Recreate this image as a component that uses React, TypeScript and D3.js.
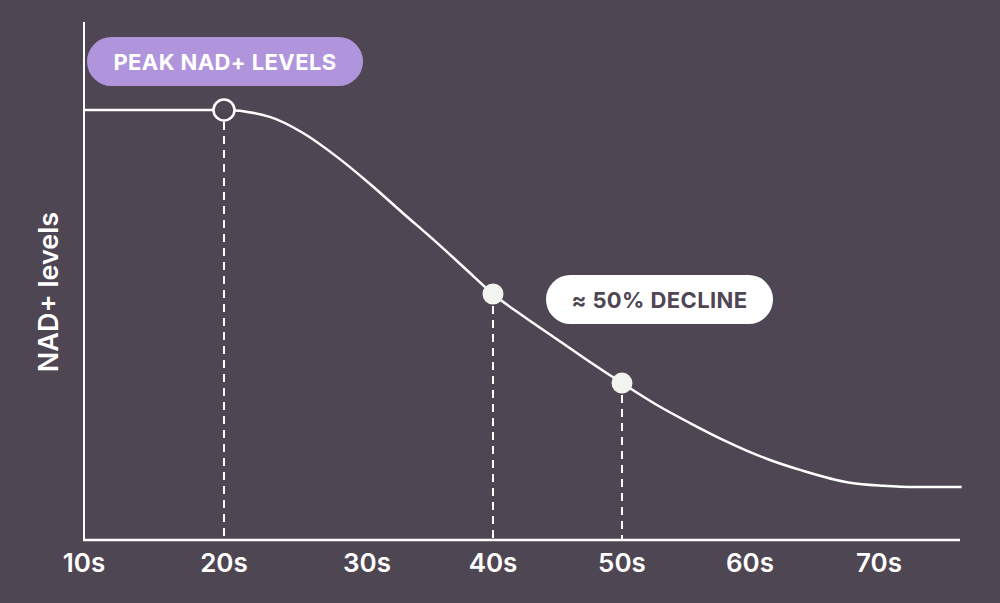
import React, { useRef, useEffect } from 'react';
import * as d3 from 'd3';

// x axis: decade labels and where each sits on the axis
const tickAges = [10, 20, 30, 40, 50, 60, 70];
const tickLabels = ['10s', '20s', '30s', '40s', '50s', '60s', '70s'];
const axisEndAge = 76.3;

// NAD+ curve (age, relative level 0-100)
const curveAges = [10, 20, 23.2, 25.5, 27.9, 30.24, 32.86, 35.56, 38.17, 40, 42.33, 44.96, 47.52, 50, 52.73, 55.31, 57.89, 61.55, 63.88, 67.75, 70.31, 72.8, 76.43];
const curveLevels = [100, 100, 98.4, 94.7, 89.1, 82.8, 76.0, 69.1, 62.1, 57.2, 52.1, 46.7, 41.4, 36.5, 31.4, 27.2, 23.3, 18.6, 16.3, 13.3, 12.6, 12.3, 12.3];

// highlighted points
const markerAges = [20, 40, 50];
const markerLevels = [100, 57.2, 36.5];
const markerHollow = [true, false, false];

const peakLabel = 'PEAK NAD+ LEVELS';
const declineLabel = '≈ 50% DECLINE';
const yLabel = 'NAD+ levels';

const BG = '#4f4653';
const PURPLE = '#b195dc';
const DOT = '#f3f3f0';
const FONT = 'Inter, "Open Sans", sans-serif';

const App: React.FC = () => {
  const svgRef = useRef<SVGSVGElement>(null);
  const width = 1000;
  const height = 603;

  useEffect(() => {
    if (!svgRef.current) return;
    const svg = d3.select(svgRef.current);
    svg.selectAll('*').remove();

    // decades are not evenly spaced in the original, so use a polylinear scale
    const x = d3.scaleLinear()
      .domain([...tickAges, axisEndAge])
      .range([84, 224, 367, 493, 622, 750, 879, 960]);
    const y = d3.scaleLinear().domain([0, 100]).range([540, 110]);

    svg.append('rect')
      .attr('width', width)
      .attr('height', height)
      .attr('fill', BG);

    // axes
    svg.append('line')
      .attr('x1', x(10)).attr('x2', x(10))
      .attr('y1', 22).attr('y2', y(0))
      .attr('stroke', '#fff').attr('stroke-width', 2);
    svg.append('line')
      .attr('x1', x(10) - 1).attr('x2', x(axisEndAge))
      .attr('y1', y(0)).attr('y2', y(0))
      .attr('stroke', '#fff').attr('stroke-width', 2.5);

    svg.selectAll('.tick-label')
      .data(tickAges)
      .enter()
      .append('text')
      .attr('class', 'tick-label')
      .attr('x', d => x(d))
      .attr('y', 572)
      .attr('text-anchor', 'middle')
      .style('font-family', FONT)
      .style('font-size', '26px')
      .style('font-weight', 600)
      .style('fill', '#fff')
      .text((d, i) => tickLabels[i]);

    svg.append('text')
      .attr('transform', `translate(58, 292) rotate(-90)`)
      .attr('text-anchor', 'middle')
      .style('font-family', FONT)
      .style('font-size', '27px')
      .style('font-weight', 600)
      .style('fill', '#fff')
      .text(yLabel);

    // dashed drop lines
    markerAges.forEach((age, i) => {
      svg.append('line')
        .attr('x1', x(age)).attr('x2', x(age))
        .attr('y1', y(markerLevels[i]) + 12).attr('y2', y(0))
        .attr('stroke', '#fff')
        .attr('stroke-width', 2)
        .attr('stroke-dasharray', '8,6');
    });

    // curve
    const line = d3.line<number>()
      .x(d => x(d))
      .y((d, i) => y(curveLevels[i]))
      .curve(d3.curveMonotoneX);
    svg.append('path')
      .datum(curveAges)
      .attr('d', line)
      .attr('fill', 'none')
      .attr('stroke', '#fff')
      .attr('stroke-width', 2.5);

    // markers
    markerAges.forEach((age, i) => {
      svg.append('circle')
        .attr('cx', x(age))
        .attr('cy', y(markerLevels[i]))
        .attr('r', 10.5)
        .attr('fill', markerHollow[i] ? BG : DOT)
        .attr('stroke', markerHollow[i] ? '#fff' : 'none')
        .attr('stroke-width', 2.5);
    });

    // pill labels
    const pill = (x0: number, y0: number, w: number, h: number, fill: string, color: string, label: string) => {
      svg.append('rect')
        .attr('x', x0).attr('y', y0)
        .attr('width', w).attr('height', h)
        .attr('rx', h / 2)
        .attr('fill', fill);
      svg.append('text')
        .attr('x', x0 + w / 2)
        .attr('y', y0 + h / 2 + 8)
        .attr('text-anchor', 'middle')
        .style('font-family', FONT)
        .style('font-size', '22px')
        .style('font-weight', 700)
        .style('letter-spacing', '0.4px')
        .style('fill', color)
        .text(label);
    };
    pill(87, 37, 276, 49, PURPLE, '#fff', peakLabel);
    pill(546, 275, 227, 49, '#fff', BG, declineLabel);
  }, []);

  return (
    <svg
      ref={svgRef}
      width={width}
      height={height}
      style={{ position: 'absolute', left: 0, top: 0, display: 'block' }}
    />
  );
};

export default App;
